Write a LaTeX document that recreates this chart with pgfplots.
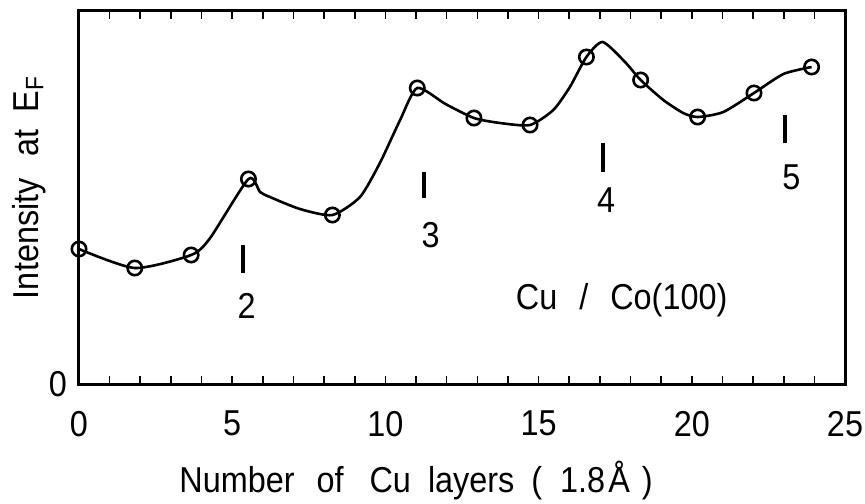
\documentclass[border=0pt]{standalone}
\usepackage{fontspec}
\setmainfont[FakeStretch=0.9]{Liberation Sans}
\usepackage{pgfplots}
\pgfplotsset{compat=1.18}
\usepackage{pgfplotstable}

% smooth curve (drawn line)
\pgfplotstableread{
x y
0.00 135
1.82 116
3.66 129
4.28 146
5.53 205
5.91 192
6.23 187
7.21 175
8.27 169
9.17 187
9.82 221
10.48 264
11.04 296
11.96 280
12.89 266
13.74 261
14.72 259
15.48 274
16.02 297
16.56 327
17.09 342
17.82 322
18.33 304
19.07 284
19.72 271
20.19 267
21.03 272
22.03 291
22.99 310
23.91 317
}\curvetab

% measured points (circles)
\pgfplotstableread{
x y
0.00 135
1.82 116
3.66 129
5.53 205
8.27 169
11.04 296
12.89 266
14.72 259
16.56 327
18.33 304
20.19 267
22.03 291
23.91 317
}\pointtab

\newcommand{\chartfont}{\fontsize{18}{21}\selectfont}

\begin{document}
\begin{tikzpicture}
\begin{axis}[
  scale only axis, width=383pt, height=186.5pt,
  xmin=0, xmax=25, ymin=0, ymax=373,
  xtick={0,5,...,25}, minor x tick num=4,
  xtick pos=both,
  ytick={0}, ytick style={draw=none},
  tick align=inside,
  major tick length=4pt, minor tick length=4pt,
  every tick/.style={line width=0.8pt, black},
  axis line style={line width=1.5pt},
  tick label style={font=\chartfont},
  /pgf/number format/assume math mode=true,
  xticklabel style={yshift=-10pt},
  yticklabel style={xshift=-2.5pt},
  xlabel={Number\hspace{11pt}of\hspace{13pt}Cu\hspace{8.5pt}layers\hspace{8.5pt}(\hspace{9pt}1.8\hspace{1.5pt}Å\hspace{6pt})},
  ylabel={Intensity\hspace{11pt}at\hspace{8.5pt}E\textsubscript{F}},
  label style={font=\chartfont},
  x label style={at={(axis description cs:0.44,0)}, anchor=base, yshift=-54pt},
  y label style={at={(axis description cs:-0.0535,0.527)}, anchor=base},
  clip=false,
]
\addplot[black, line width=1.3pt, smooth, tension=0.4, no marks] table {\curvetab};
\addplot[black, only marks, mark=o, mark size=3.6pt, mark options={line width=1.3pt}] table {\pointtab};

% peak markers
\draw[line width=2pt] (axis cs:5.36,111) -- (axis cs:5.36,139);
\draw[line width=2pt] (axis cs:11.27,186) -- (axis cs:11.27,212);
\draw[line width=2pt] (axis cs:17.11,212) -- (axis cs:17.11,241);
\draw[line width=2pt] (axis cs:23.05,241) -- (axis cs:23.05,269);
\node[font=\chartfont] at (axis cs:5.47,78) {2};
\node[font=\chartfont] at (axis cs:11.48,149) {3};
\node[font=\chartfont] at (axis cs:17.2,184) {4};
\node[font=\chartfont] at (axis cs:23.25,207) {5};
\node[font=\chartfont] at (axis cs:17.71,84) {Cu\hspace{11pt}/\hspace{11pt}Co(100)};

\coordinate (SW) at (rel axis cs:0,0);
\coordinate (NE) at (rel axis cs:1,1);
\end{axis}
\pgfresetboundingbox
\path ([shift={(-39.5pt,-59.5pt)}]SW) rectangle ([shift={(10pt,5.5pt)}]NE);
\end{tikzpicture}
\end{document}
